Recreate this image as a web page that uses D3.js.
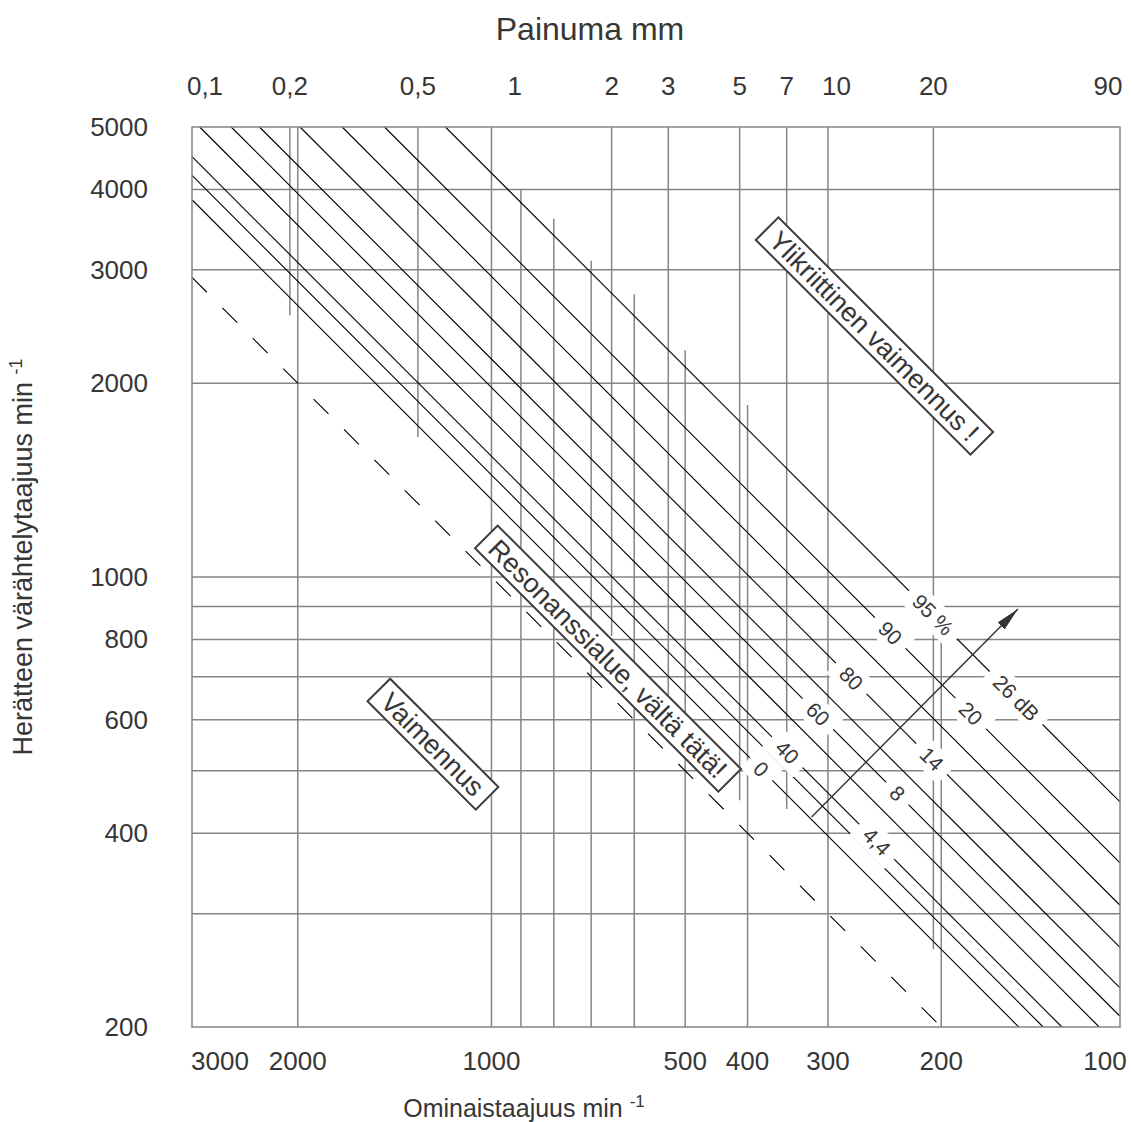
<!DOCTYPE html>
<html>
<head>
<meta charset="utf-8">
<script src="https://cdn.jsdelivr.net/npm/d3@7"></script>
<style>
  body { margin: 0; background: #fff; }
  text { font-family: "Liberation Sans", Arial, sans-serif; fill: #363636; }
</style>
</head>
<body>
<div id="chart"></div>
<script>
// ---- data ----
// excitation frequency (min^-1), vertical axis
const excitationDomain = [200, 5000]
const excitationTicks = [5000, 4000, 3000, 2000, 1000, 800, 600, 400, 200]
const excitationGrid = [4000, 3000, 2000, 1000, 900, 800, 700, 600, 500, 400, 300]

// natural frequency (min^-1), bottom axis, reversed
const naturalDomain = [2920, 105.5]
const naturalTicks = [3000, 2000, 1000, 500, 400, 300, 200, 100]
const naturalFullLines = [2000, 1000, 300]
// [natural frequency, excitation frequency where the line stops going up]
const naturalPartialLines = [[900, 4000], [800, 3600], [700, 3100], [600, 2750], [500, 2250], [400, 1850], [200, 900]]

// static deflection (mm), top axis; natural frequency = deflectionConst / sqrt(deflection)
const deflectionConst = 920
const deflectionTicks = [0.1, 0.2, 0.5, 1, 2, 3, 5, 7, 10, 20, 90]
// [deflection, excitation frequency where the line stops going down]
const deflectionLines = [[0.2, 2550], [0.5, 1650], [2, 810], [3, 600], [5, 450], [7, 436], [20, 264]]

// frequency ratio (excitation / natural) of each isolation line, dashed one is resonance
const resonanceRatio = 1
const isolationRatios = [1.32, 1.44, 1.54, 1.76, 1.97, 2.18, 2.52, 2.93, 3.41, 4.24]

// labels on the isolation lines: [text, line index, natural frequency where placed]
const efficiencyLabels = [["0", 0, 381], ["40", 2, 347], ["60", 4, 311], ["80", 6, 276], ["90", 8, 240], ["95 %", 9, 206]]
const decibelLabels = [["4,4", 2, 252], ["8", 4, 234], ["14", 6, 207], ["20", 8, 180], ["26 dB", 9, 153]]

// region boxes: [text, natural frequency, excitation frequency] of the box centre
const regionLabels = [
    ["Ylikriittinen vaimennus !", 254, 2368],
    ["Resonanssialue, vältä tätä!", 659, 747],
    ["Vaimennus", 1233, 550]
]

// arrow across the labels: [natural, excitation] of tail and head
const arrowTail = [318, 424]
const arrowHead = [152, 892]

async function drawChart(container) {
    const WIDTH = 1132
    const HEIGHT = 1122
    const margin = {top: 127, right: 12, bottom: 95, left: 192}
    const left = margin.left, right = WIDTH - margin.right
    const top = margin.top, bottom = HEIGHT - margin.bottom

    const GRID = "#858585"
    const fmt = d3.formatLocale({decimal: ",", thousands: "", grouping: [3], currency: ["", ""]}).format("~g")

    let svg = d3.select(container).append("svg")
        .attr("width", WIDTH)
        .attr("height", HEIGHT)
        .style("background", "#fff")

    const x = d3.scaleLog().domain(naturalDomain).range([left, right])
    const y = d3.scaleLog().domain(excitationDomain).range([bottom, top])
    const xDefl = d => x(deflectionConst / Math.sqrt(d))

    const grid = svg.append("g")
        .attr("stroke", GRID)
        .attr("stroke-width", 1.5)

    // horizontal grid
    grid.selectAll(".h").data(excitationGrid).enter().append("line")
        .attr("x1", left).attr("x2", right)
        .attr("y1", d => y(d)).attr("y2", d => y(d))

    // vertical grid, natural frequency
    grid.selectAll(".vf").data(naturalFullLines).enter().append("line")
        .attr("x1", d => x(d)).attr("x2", d => x(d))
        .attr("y1", top).attr("y2", bottom)
    grid.selectAll(".vp").data(naturalPartialLines).enter().append("line")
        .attr("x1", d => x(d[0])).attr("x2", d => x(d[0]))
        .attr("y1", d => y(d[1])).attr("y2", bottom)

    // vertical grid, deflection
    grid.selectAll(".vd").data(deflectionLines).enter().append("line")
        .attr("x1", d => xDefl(d[0])).attr("x2", d => xDefl(d[0]))
        .attr("y1", top).attr("y2", d => y(d[1]))

    // a line fe = r * fn clipped to the plot
    const [fnMax, fnMin] = naturalDomain
    const [feMin, feMax] = excitationDomain
    function ratioLine(r) {
        const a = Math.min(fnMax, feMax / r)
        const b = Math.max(fnMin, feMin / r)
        return [[x(a), y(a * r)], [x(b), y(b * r)]]
    }

    svg.append("g").selectAll("line").data(isolationRatios).enter().append("line")
        .attr("x1", d => ratioLine(d)[0][0]).attr("y1", d => ratioLine(d)[0][1])
        .attr("x2", d => ratioLine(d)[1][0]).attr("y2", d => ratioLine(d)[1][1])
        .attr("stroke", "#000")
        .attr("stroke-width", 1.1)

    const res = ratioLine(resonanceRatio)
    svg.append("line")
        .attr("x1", res[0][0]).attr("y1", res[0][1])
        .attr("x2", res[1][0]).attr("y2", res[1][1])
        .attr("stroke", "#000")
        .attr("stroke-width", 1.1)
        .attr("stroke-dasharray", "21,22")

    // labels sitting on the lines, with a white patch under each
    const onLine = efficiencyLabels.concat(decibelLabels)
    const lab = svg.append("g").selectAll("g").data(onLine).enter().append("g")
        .attr("transform", d => {
            const r = isolationRatios[d[1]]
            return `translate(${x(d[2])},${y(d[2] * r)}) rotate(45)`
        })
    lab.append("text")
        .attr("text-anchor", "middle")
        .attr("dy", "0.35em")
        .style("font-size", "21px")
        .text(d => d[0])
    lab.insert("rect", "text")
        .attr("fill", "#fff")
        .each(function () {
            const w = this.parentNode.querySelector("text").getComputedTextLength() + 20
            d3.select(this).attr("x", -w / 2).attr("y", -14).attr("width", w).attr("height", 28)
        })

    // region boxes
    const box = svg.append("g").selectAll("g").data(regionLabels).enter().append("g")
        .attr("transform", d => `translate(${x(d[1])},${y(d[2])}) rotate(45)`)
    box.append("text")
        .attr("text-anchor", "middle")
        .attr("dy", "0.36em")
        .style("font-size", "27px")
        .text(d => d[0])
    box.insert("rect", "text")
        .attr("fill", "#fff")
        .attr("stroke", "#3c3c3c")
        .attr("stroke-width", 2)
        .each(function () {
            const w = this.parentNode.querySelector("text").getComputedTextLength() + 20
            d3.select(this).attr("x", -w / 2).attr("y", -16).attr("width", w).attr("height", 32)
        })

    // arrow
    svg.append("defs").append("marker")
        .attr("id", "head")
        .attr("viewBox", "0 0 24 10")
        .attr("refX", 24).attr("refY", 5)
        .attr("markerWidth", 24).attr("markerHeight", 10)
        .attr("markerUnits", "userSpaceOnUse")
        .attr("orient", "auto")
        .append("path").attr("d", "M0,0 L24,5 L0,10 Z").attr("fill", "#333")
    svg.append("line")
        .attr("x1", x(arrowTail[0])).attr("y1", y(arrowTail[1]))
        .attr("x2", x(arrowHead[0])).attr("y2", y(arrowHead[1]))
        .attr("stroke", "#333")
        .attr("stroke-width", 1.4)
        .attr("marker-end", "url(#head)")

    // frame
    svg.append("rect")
        .attr("x", left).attr("y", top)
        .attr("width", right - left).attr("height", bottom - top)
        .attr("fill", "none")
        .attr("stroke", GRID)
        .attr("stroke-width", 1.5)

    // tick labels
    svg.append("g").selectAll("text").data(excitationTicks).enter().append("text")
        .attr("x", left - 44)
        .attr("y", d => y(d))
        .attr("dy", "0.35em")
        .attr("text-anchor", "end")
        .style("font-size", "26px")
        .text(d => d)

    svg.append("g").selectAll("text").data(naturalTicks).enter().append("text")
        .attr("x", d => Math.max(left + 28, Math.min(right - 15, x(d))))
        .attr("y", bottom + 43)
        .attr("text-anchor", "middle")
        .style("font-size", "26px")
        .text(d => d)

    svg.append("g").selectAll("text").data(deflectionTicks).enter().append("text")
        .attr("x", d => Math.max(left + 13, Math.min(right - 12, xDefl(d))))
        .attr("y", top - 32)
        .attr("text-anchor", "middle")
        .style("font-size", "26px")
        .text(d => fmt(d))

    // titles
    svg.append("text")
        .attr("x", 590).attr("y", 40)
        .attr("text-anchor", "middle")
        .style("font-size", "32px")
        .text("Painuma mm")

    let xt = svg.append("text")
        .attr("x", 524).attr("y", 1117)
        .attr("text-anchor", "middle")
        .style("font-size", "25px")
    xt.append("tspan").text("Ominaistaajuus min ")
    xt.append("tspan").attr("dy", -10).style("font-size", "17px").text("-1")

    let yt = svg.append("text")
        .attr("transform", "translate(32,557) rotate(-90)")
        .attr("text-anchor", "middle")
        .style("font-size", "27px")
    yt.append("tspan").text("Herätteen värähtelytaajuus min ")
    yt.append("tspan").attr("dy", -10).style("font-size", "18px").text("-1")
}

drawChart("#chart")
</script>
</body>
</html>
